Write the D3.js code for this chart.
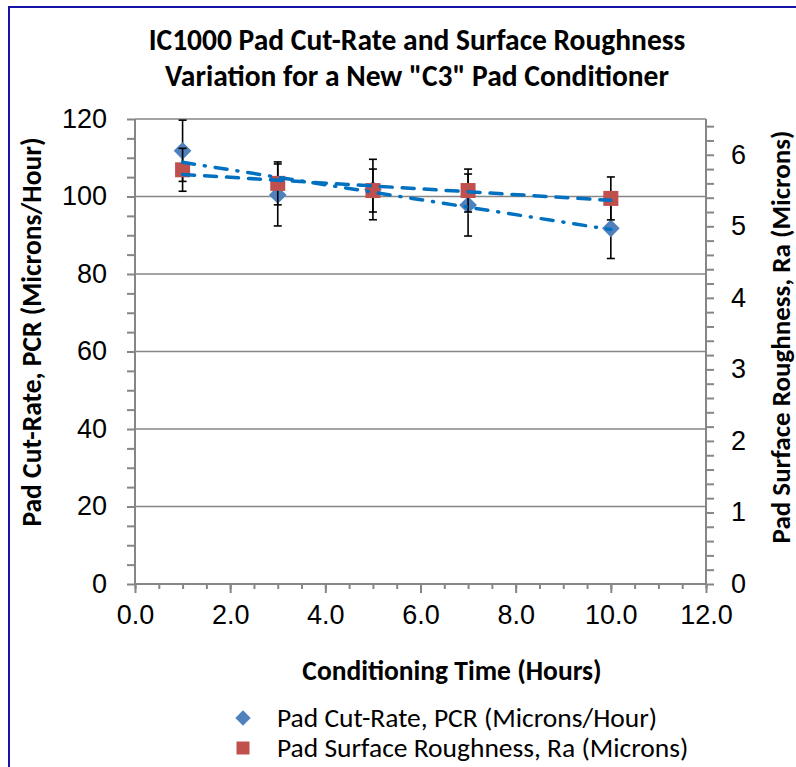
<!DOCTYPE html>
<html>
<head>
<meta charset="utf-8">
<script src="https://cdn.jsdelivr.net/npm/d3@7"></script>
<style>
  body { margin: 0; background: #fff; }
  svg { display: block; font-family: Carlito, Lato, "Open Sans", sans-serif; }
</style>
</head>
<body>
<svg id="chart" width="796" height="767"></svg>
<script>
// conditioning time (hours)
const hours = [1, 3, 5, 7, 10];
// pad cut-rate, PCR (microns/hour) and its error
const pcr = [111.8, 100.4, 101.8, 97.8, 91.8];
const pcrErr = [7.9, 8, 7.8, 8, 7.8];
// pad surface roughness, Ra (microns) and its error
const ra = [5.79, 5.6, 5.5, 5.5, 5.39];
const raErr = [0.3, 0.3, 0.3, 0.3, 0.3];

const xTicks = [0, 2, 4, 6, 8, 10, 12];
const leftTicks = [0, 20, 40, 60, 80, 100, 120];
const rightTicks = [0, 1, 2, 3, 4, 5, 6];

const titleLines = ['IC1000 Pad Cut-Rate and Surface Roughness', 'Variation for a New "C3" Pad Conditioner'];
const legendNames = ['Pad Cut-Rate, PCR (Microns/Hour)', 'Pad Surface Roughness, Ra (Microns)'];

const svg = d3.select("#chart");
const grey = "#868686";
const blueMark = "#4F81BD";
const redMark = "#C0504D";
const trendBlue = "#0070C0";

let margin = {top: 119, left: 135, right: 796 - 706, bottom: 767 - 584};
let width = 796 - margin.left - margin.right;
let height = 767 - margin.top - margin.bottom;

let x = d3.scaleLinear().domain([0, 12]).range([margin.left, margin.left + width]);
let yL = d3.scaleLinear().domain([0, 120]).range([margin.top + height, margin.top]);
let yR = d3.scaleLinear().domain([0, 6.5]).range([margin.top + height, margin.top]);

// outer frame
svg.append("rect").attr("x", 0).attr("y", 0).attr("width", 796).attr("height", 767).attr("fill", "#fff");
svg.append("path")
    .attr("d", "M9,767 V7 H796")
    .attr("fill", "none")
    .attr("stroke", "#1414A8")
    .attr("stroke-width", 2);

// title
svg.append("g")
    .selectAll("text")
    .data(titleLines)
    .enter()
    .append("text")
    .attr("x", 417)
    .attr("y", (d, i) => 50 + i * 36)
    .attr("text-anchor", "middle")
    .attr("font-size", 29.5)
    .attr("font-weight", "bold")
    .text(d => d);

// gridlines
svg.append("g")
    .selectAll("line")
    .data(leftTicks.filter(d => d > 0))
    .enter()
    .append("line")
    .attr("x1", x(0)).attr("x2", x(12))
    .attr("y1", d => yL(d)).attr("y2", d => yL(d))
    .attr("stroke", grey).attr("stroke-width", 1.3);

// left axis
let leftAxis = d3.axisLeft(yL).tickValues(d3.range(0, 121, 5)).tickSize(8).tickFormat("");
let gl = svg.append("g").attr("transform", "translate(" + x(0) + ",0)").call(leftAxis);
gl.selectAll(".lbl")
    .data(leftTicks)
    .enter()
    .append("text")
    .attr("class", "lbl")
    .attr("x", -28)
    .attr("y", d => yL(d))
    .attr("dy", "0.33em")
    .attr("text-anchor", "end")
    .attr("fill", "#000")
    .attr("font-size", 27)
    .text(d => d);

// right axis
let rightAxis = d3.axisRight(yR).tickValues(d3.range(0, 33).map(i => i * 0.2)).tickSize(8).tickFormat("");
let gr = svg.append("g").attr("transform", "translate(" + x(12) + ",0)").call(rightAxis);
gr.selectAll(".lbl")
    .data(rightTicks)
    .enter()
    .append("text")
    .attr("class", "lbl")
    .attr("x", 25)
    .attr("y", d => yR(d))
    .attr("dy", "0.33em")
    .attr("text-anchor", "start")
    .attr("fill", "#000")
    .attr("font-size", 27)
    .text(d => d);

// bottom axis: minor then major ticks
let gx = svg.append("g").attr("transform", "translate(0," + yL(0) + ")");
gx.call(d3.axisBottom(x).tickValues(d3.range(0, 12.01, 0.5)).tickSize(5).tickFormat(""));
let gx2 = svg.append("g").attr("transform", "translate(0," + yL(0) + ")");
gx2.call(d3.axisBottom(x).tickValues(xTicks).tickSize(9).tickFormat(d3.format(".1f")));
gx2.selectAll("text").attr("font-size", 27).attr("dy", 0).attr("y", 40).attr("fill", "#000");

[gl, gr, gx, gx2].forEach(g => {
    g.selectAll("path,line").attr("stroke", grey).attr("stroke-width", 2);
});
gx2.select(".domain").remove();
gx.select(".domain").attr("d", "M" + x(0) + ",0H" + x(12));
gl.select(".domain").attr("d", "M0," + yL(0) + "V" + yL(120));
gr.select(".domain").attr("d", "M0," + yR(0) + "V" + yR(6.5));

// axis titles
svg.append("text")
    .attr("transform", "translate(41,332) rotate(-90)")
    .attr("text-anchor", "middle")
    .attr("font-size", 27.5).attr("font-weight", "bold")
    .text("Pad Cut-Rate, PCR (Microns/Hour)");
svg.append("text")
    .attr("transform", "translate(790,337) rotate(-90)")
    .attr("text-anchor", "middle")
    .attr("font-size", 27).attr("font-weight", "bold")
    .text("Pad Surface Roughness, Ra (Microns)");
svg.append("text")
    .attr("x", 452).attr("y", 680)
    .attr("text-anchor", "middle")
    .attr("font-size", 27.5).attr("font-weight", "bold")
    .text("Conditioning Time (Hours)");

// series data
let pcrData = hours.map((h, i) => ({x: h, y: pcr[i], e: pcrErr[i]}));
let raData = hours.map((h, i) => ({x: h, y: ra[i], e: raErr[i]}));

function errorBars(data, y) {
    let g = svg.append("g").attr("stroke", "#000").attr("stroke-width", 1.6);
    data.forEach(d => {
        g.append("line").attr("x1", x(d.x)).attr("x2", x(d.x))
            .attr("y1", y(d.y - d.e)).attr("y2", y(d.y + d.e));
        [d.y - d.e, d.y + d.e].forEach(v => {
            g.append("line").attr("x1", x(d.x) - 4).attr("x2", x(d.x) + 4)
                .attr("y1", y(v)).attr("y2", y(v));
        });
    });
}

errorBars(pcrData, yL);
svg.append("g")
    .selectAll("path")
    .data(pcrData)
    .enter()
    .append("path")
    .attr("d", d3.symbol(d3.symbolDiamond2, 200))
    .attr("transform", d => "translate(" + x(d.x) + "," + yL(d.y) + ")")
    .attr("fill", blueMark);

errorBars(raData, yR);
svg.append("g")
    .selectAll("rect")
    .data(raData)
    .enter()
    .append("rect")
    .attr("x", d => x(d.x) - 7.5)
    .attr("y", d => yR(d.y) - 7.5)
    .attr("width", 15).attr("height", 15)
    .attr("fill", redMark);

// linear trendlines (least squares over the points)
function trend(data) {
    let mx = d3.mean(data, d => d.x), my = d3.mean(data, d => d.y);
    let sxy = d3.sum(data, d => (d.x - mx) * (d.y - my));
    let sxx = d3.sum(data, d => (d.x - mx) * (d.x - mx));
    let b = sxy / sxx, a = my - b * mx;
    let x0 = d3.min(data, d => d.x), x1 = d3.max(data, d => d.x);
    return [{x: x0, y: a + b * x0}, {x: x1, y: a + b * x1}];
}
svg.append("path")
    .datum(trend(raData))
    .attr("d", d3.line().x(d => x(d.x)).y(d => yR(d.y)))
    .attr("fill", "none").attr("stroke", trendBlue).attr("stroke-width", 3.5)
    .attr("stroke-linecap", "round")
    .attr("stroke-dasharray", "12,10");
svg.append("path")
    .datum(trend(pcrData))
    .attr("d", d3.line().x(d => x(d.x)).y(d => yL(d.y)))
    .attr("fill", "none").attr("stroke", trendBlue).attr("stroke-width", 3.5)
    .attr("stroke-linecap", "round")
    .attr("stroke-dasharray", "12,10,1,10");

// legend
let lg = svg.append("g");
lg.append("path")
    .attr("d", d3.symbol(d3.symbolDiamond2, 150))
    .attr("transform", "translate(243,718)")
    .attr("fill", blueMark);
lg.append("rect").attr("x", 236.5).attr("y", 741.5).attr("width", 13).attr("height", 13).attr("fill", redMark);
lg.selectAll("text")
    .data(legendNames)
    .enter()
    .append("text")
    .attr("x", 277)
    .attr("y", (d, i) => 718 + i * 30)
    .attr("dy", "0.33em")
    .attr("font-size", 27.5)
    .text(d => d);
</script>
</body>
</html>
